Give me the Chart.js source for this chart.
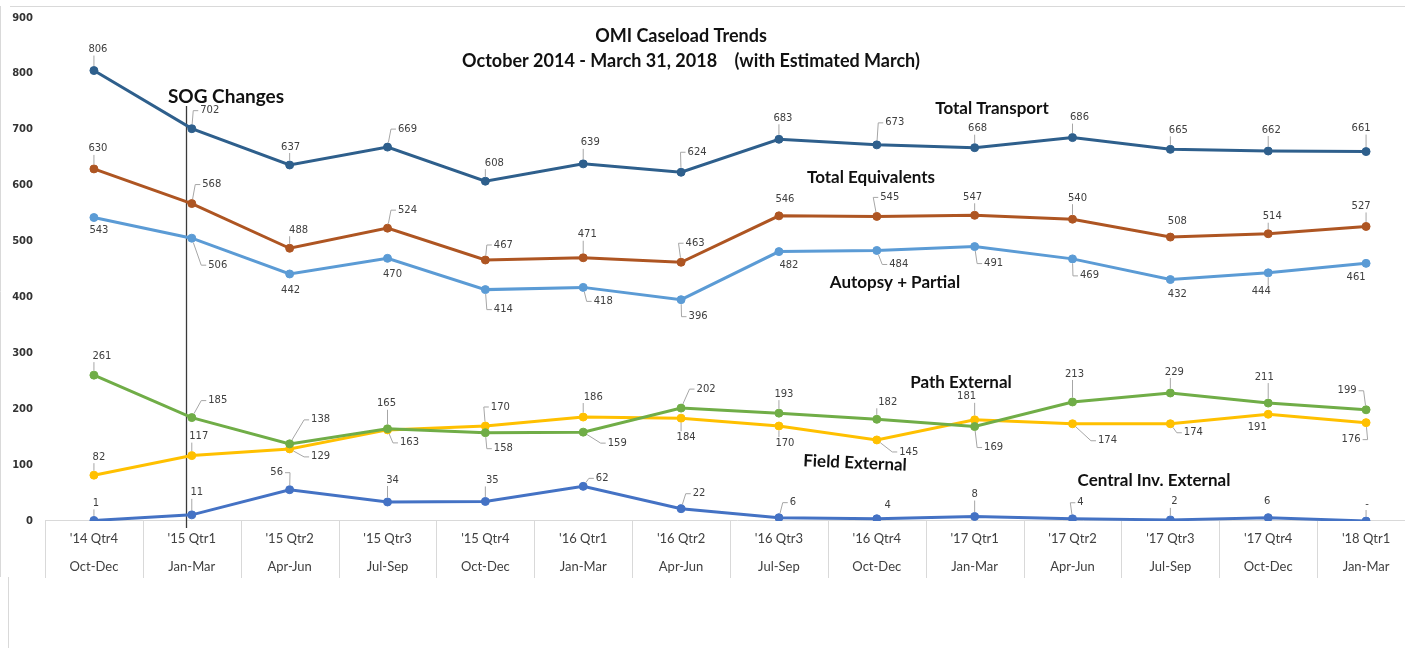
<!DOCTYPE html>
<html><head><meta charset="utf-8">
<script src="https://cdn.jsdelivr.net/npm/chart.js@4.4.1/dist/chart.umd.min.js"></script>
<style>
html,body{margin:0;padding:0;background:#fff;overflow:hidden;}
#wrap{position:relative;width:1430px;height:648px;}
</style></head><body>
<div id="wrap"><canvas id="c" width="1430" height="648"></canvas></div>
<script>
// ---- data ----
const quarters = ["'14 Qtr4","'15 Qtr1","'15 Qtr2","'15 Qtr3","'15 Qtr4","'16 Qtr1","'16 Qtr2","'16 Qtr3","'16 Qtr4","'17 Qtr1","'17 Qtr2","'17 Qtr3","'17 Qtr4","'18 Qtr1"];
const months = ["Oct-Dec","Jan-Mar","Apr-Jun","Jul-Sep","Oct-Dec","Jan-Mar","Apr-Jun","Jul-Sep","Oct-Dec","Jan-Mar","Apr-Jun","Jul-Sep","Oct-Dec","Jan-Mar"];
const totalTransport   = [806,702,637,669,608,639,624,683,673,668,686,665,662,661];
const totalEquivalents = [630,568,488,524,467,471,463,546,545,547,540,508,514,527];
const autopsyPartial   = [543,506,442,470,414,418,396,482,484,491,469,432,444,461];
const pathExternal     = [261,185,138,165,158,159,202,193,182,169,213,229,211,199];
const fieldExternal    = [82,117,129,163,170,186,184,170,145,181,174,174,191,176];
const centralInvExternal = [1,11,56,34,35,62,22,6,4,8,4,2,6,0];
const yTicks = [0,100,200,300,400,500,600,700,800,900];

// ---- label offsets (pixels from the point, label centre) ----
const offTransport = [[4,-21],[18,-18],[1,-18],[20,-18],[9,-18],[7,-21],[16,-20],[4,-21],[18,-22],[3,-19],[7,-20],[8,-19],[3,-21],[-5,-23]];
const offEquiv = [[4,-20],[20,-19],[9,-18],[20,-18],[18,-15],[4,-23],[14,-19],[6,-16],[13,-19],[-2,-18],[5,-21],[7,-16],[4,-17],[-5,-20]];
const offAutopsy = [[5,13],[26,27],[1,16],[5,16],[18,20],[20,14],[17,17],[10,14],[22,14],[19,17],[17,17],[7,15],[-7,19],[-10,14]];
const offPath = [[8,-19],[26,-17],[31,-24],[-1,-25],[18,16],[34,11],[25,-19],[5,-19],[11,-17],[19,21],[2,-28],[4,-21],[-4,-26],[-19,-19]];
const offField = [[5,-18],[7,-19],[31,8],[22,13],[15,-19],[10,-20],[5,19],[6,17],[32,12],[-8,-23],[35,17],[23,9],[-11,13],[-15,17]];
const offCentral = [[2,-17],[5,-22],[-13,-17],[5,-22],[7,-21],[19,-8],[18,-15],[14,-15],[11,-13],[0,-22],[8,-16],[4,-18],[-1,-16],[1,-17]];

const series = [
  {name:'Total Transport', data: totalTransport, color:'#2E5F8C', off: offTransport},
  {name:'Total Equivalents', data: totalEquivalents, color:'#AE5522', off: offEquiv},
  {name:'Autopsy + Partial', data: autopsyPartial, color:'#5B9BD5', off: offAutopsy},
  {name:'Path External', data: pathExternal, color:'#70AD47', off: offPath},
  {name:'Field External', data: fieldExternal, color:'#FFC000', off: offField},
  {name:'Central Inv. External', data: centralInvExternal, color:'#4472C4', off: offCentral}
];

const TEXT = '#404040';

const decor = {
  id: 'decor',
  beforeDatasetsDraw(chart) {
    const ctx = chart.ctx, ca = chart.chartArea, xs = chart.scales.x;
    const band = (ca.right - ca.left) / quarters.length;
    ctx.save();
    ctx.strokeStyle = '#d9d9d9'; ctx.lineWidth = 1;
    // outer border
    ctx.beginPath();
    ctx.moveTo(10, 6.5); ctx.lineTo(chart.width, 6.5);
    ctx.moveTo(0.5, 6); ctx.lineTo(0.5, 577);
    ctx.moveTo(8.5, 577); ctx.lineTo(8.5, 648);
    ctx.stroke();
    // axis line
    ctx.beginPath();
    ctx.moveTo(ca.left, Math.round(ca.bottom) - 0.5); ctx.lineTo(chart.width, Math.round(ca.bottom) - 0.5);
    for (let i = 0; i <= quarters.length; i++) {
      const x = Math.round(xs.getPixelForValue(0) - band / 2 + i * band) + 0.5;
      ctx.moveTo(x, ca.bottom); ctx.lineTo(x, ca.bottom + 57);
    }
    ctx.stroke();
    // SOG line
    const sx = Math.round(xs.getPixelForValue(1) - 6) + 0.5;
    ctx.strokeStyle = '#3a3a3a'; ctx.lineWidth = 1.3;
    ctx.beginPath(); ctx.moveTo(sx, 106); ctx.lineTo(sx, ca.bottom + 7); ctx.stroke();
    ctx.restore();
  },
  afterDatasetsDraw(chart) {
    const ctx = chart.ctx;
    ctx.save();
    // data labels
    ctx.font = '10px "DejaVu Sans"';
    ctx.textAlign = 'center'; ctx.textBaseline = 'middle';
    series.forEach((s, di) => {
      const meta = chart.getDatasetMeta(di);
      meta.data.forEach((pt, i) => {
        const txt = s.data[i] === 0 ? '-' : String(s.data[i]);
        const px = pt.x, py = pt.y;
        const lx = px + s.off[i][0], ly = py + s.off[i][1];
        const w = ctx.measureText(txt).width;
        const left = lx - w / 2 - 2, right = lx + w / 2 + 2, top = ly - 6, bottom = ly + 6;
        const cx = Math.max(left, Math.min(px, right)), cy = Math.max(top, Math.min(py, bottom));
        const dist = Math.hypot(px - cx, py - cy);
        if (dist > 10) {
          ctx.strokeStyle = '#a6a6a6'; ctx.lineWidth = 1;
          ctx.beginPath();
          let ax, ay;
          if (px < left || px > right) {
            const ex = px < left ? left : right;
            const stub = px < left ? -5 : 5;
            ctx.moveTo(ex, ly); ctx.lineTo(ex + stub, ly);
            ax = ex + stub; ay = ly;
          } else {
            ax = cx; ay = cy; ctx.moveTo(ax, ay);
          }
          const d = Math.hypot(px - ax, py - ay);
          ctx.lineTo(px + (ax - px) / d * 4.5, py + (ay - py) / d * 4.5);
          ctx.stroke();
        }
        ctx.fillStyle = TEXT;
        ctx.fillText(txt, lx, ly);
      });
    });
    // series names
    ctx.fillStyle = '#111';
    ctx.font = 'bold 17px Lato';
    ctx.fillText('Total Transport', 992, 109);
    ctx.fillText('Total Equivalents', 871, 178);
    ctx.fillText('Autopsy + Partial', 895, 283);
    ctx.fillText('Path External', 961, 383);
    ctx.fillText('Central Inv. External', 1154, 481);
    ctx.save();
    ctx.translate(855, 463); ctx.rotate(0.045);
    ctx.fillText('Field External', 0, 0);
    ctx.restore();
    // title
    ctx.font = 'bold 18px Lato';
    ctx.fillText('OMI Caseload Trends', 681, 36);
    ctx.fillText('October 2014 - March 31, 2018    (with Estimated March)', 691, 61);
    // SOG
    ctx.font = 'bold 19px Lato';
    ctx.fillText('SOG Changes', 226, 97);
    ctx.restore();
  }
};

new Chart(document.getElementById('c'), {
  type: 'line',
  data: {
    labels: quarters.map((q, i) => [q, months[i]]),
    datasets: series.map(s => ({
      label: s.name, data: s.data,
      borderColor: s.color, backgroundColor: s.color,
      borderWidth: 3, pointRadius: 4, pointBorderWidth: 1,
      pointBackgroundColor: s.color, pointBorderColor: s.color,
      tension: 0, fill: false
    }))
  },
  options: {
    responsive: false, animation: false, devicePixelRatio: 1,
    layout: { padding: { left: 0, right: 15, top: 17, bottom: 0 } },
    plugins: { legend: { display: false }, tooltip: { enabled: false }, title: { display: false } },
    scales: {
      x: {
        type: 'category', offset: true,
        grid: { display: false, drawTicks: false }, border: { display: false },
        ticks: { autoSkip: false, maxRotation: 0, minRotation: 0, padding: 4, color: TEXT,
                 font: { family: 'Lato', size: 13, lineHeight: 2.15 } },
        afterFit(sc) { sc.height = 127; }
      },
      y: {
        min: 0, max: 900,
        afterBuildTicks(sc) { sc.ticks = yTicks.map(v => ({ value: v })); },
        grid: { display: false, drawTicks: false }, border: { display: false },
        ticks: { padding: 12, color: '#333', font: { family: 'DejaVu Sans', size: 10, weight: 'bold' } },
        afterFit(sc) { sc.width = 45; }
      }
    }
  },
  plugins: [decor]
});
</script>
</body></html>
